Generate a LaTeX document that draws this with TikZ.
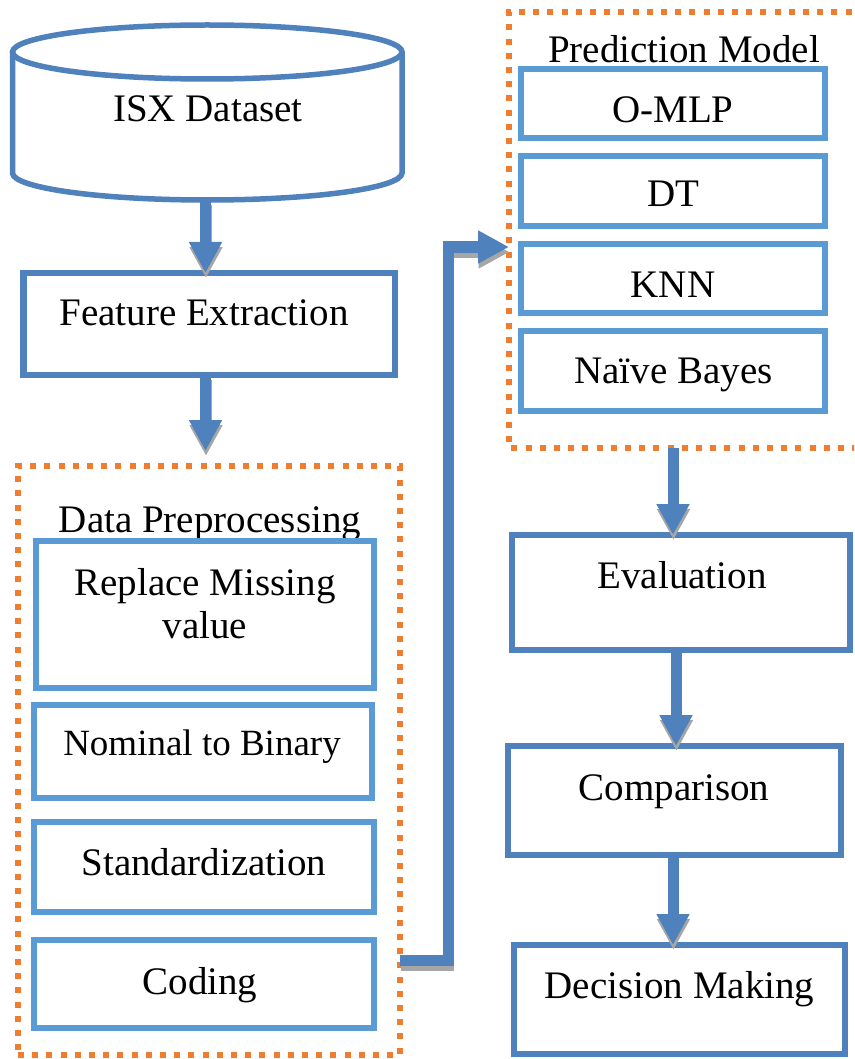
\documentclass[tikz,border=0pt]{standalone}
\usepackage{fontspec}
\setmainfont{Liberation Serif}
\usetikzlibrary{arrows.meta,fit}
\definecolor{boxblue}{HTML}{4F81BD}
\definecolor{itemblue}{HTML}{5B9BD5}
\definecolor{grouporange}{HTML}{ED7D31}
\definecolor{shadowgray}{HTML}{A6A6A6}
\tikzset{
  outerbox/.style={draw=boxblue, line width=6.5pt, inner sep=0pt, outer sep=0pt},
  itembox/.style={draw=itemblue, line width=6.5pt, inner sep=0pt, outer sep=0pt},
  groupbox/.style={draw=grouporange, line width=6pt, dash pattern=on 6pt off 8.2pt, inner sep=0pt, outer sep=0pt},
  lbl/.style={anchor=base, inner sep=0pt, font=\fontsize{39}{43}\selectfont},
  smalllbl/.style={lbl, font=\fontsize{37}{41}\selectfont},
  flow/.style={draw=boxblue, line width=11pt, line join=miter,
    -{Triangle[width=31pt,length=31pt]}},
  flowshadow/.style={flow, draw=shadowgray, transform canvas={shift={(0.5pt,-5pt)}}},
}
\newcommand\shadowedflow[1]{\draw[flowshadow] #1; \draw[flow] #1;}
\begin{document}
\begin{tikzpicture}[x=1pt,y=-1pt]
\clip (0,0) rectangle (854,1059);
\fill[white] (0,0) rectangle (854,1059);

% dataset cylinder
\node[fit={(12.5,25) (402,200)}, inner sep=0pt] (db) {};
\draw[boxblue, line width=5.5pt] (207.25,52) ellipse [x radius=194.75, y radius=27];
\draw[boxblue, line width=5.5pt] (12.5,52) -- (12.5,173)
  arc[start angle=180, end angle=0, x radius=194.75, y radius=27] -- (402,52);
\node[lbl] at (208,122) {ISX Dataset};

% left column
\node[outerbox, fit={(23.5,273) (395,375)}] (feat) {};
\node[lbl] at (204,325) {Feature Extraction};

\node[groupbox, fit={(18,466) (400,1055)}] (prep) {};
\node[lbl] at (210,532) {Data Preprocessing};
\node[itembox, fit={(36,541) (374,688)}] (miss) {};
\node[lbl] at (205,595) {Replace Missing};
\node[lbl] at (205,638) {value};
\node[itembox, fit={(34,705) (372,798)}] (nom) {};
\node[smalllbl] at (202,755) {Nominal to Binary};
\node[itembox, fit={(34,822) (374,912)}] (std) {};
\node[lbl] at (204,875) {Standardization};
\node[itembox, fit={(34,940) (374,1028)}] (cod) {};
\node[lbl] at (200,994) {Coding};

% right column
\node[inner sep=0pt, outer sep=0pt, fit={(509,12) (880,448)}] (pred) {};
\draw[groupbox] (880,12) -- (509,12) -- (509,448) -- (880,448);
\node[lbl] at (684,63) {Prediction Model};
\node[itembox, fit={(521,69) (825,138)}] (mlp) {};
\node[lbl] at (673,123) {O-MLP};
\node[itembox, fit={(521,156) (825,226)}] (dt) {};
\node[lbl] at (673,207) {DT};
\node[itembox, fit={(521,244) (825,313)}] (knn) {};
\node[lbl] at (673,297) {KNN};
\node[itembox, fit={(521,331) (825,411)}] (nb) {};
\node[lbl] at (673.5,383) {Naïve Bayes};

\node[outerbox, fit={(512,535) (850,650)}] (eval) {};
\node[lbl] at (682,588) {Evaluation};
\node[outerbox, fit={(508,746) (841,855)}] (comp) {};
\node[lbl] at (674,800) {Comparison};
\node[outerbox, fit={(514,945) (845,1054)}] (dec) {};
\node[lbl] at (679.5,998) {Decision Making};

% connector guides
\coordinate (colL) at (205.5,0);
\coordinate (colR) at (673,0);
\coordinate (colR2) at (676,0);
\coordinate (prepend) at (205.5,451);
\path (prep.east) ++(0,200) coordinate (cstart);
\coordinate (jog) at (448,600);
\coordinate (cin) at (509,247);

% arrows
\shadowedflow{(db.south -| colL) -- (feat.north -| colL)}
\shadowedflow{(feat.south -| colL) -- (prepend)}
\shadowedflow{(cstart) -| (jog) |- (cin)}
\shadowedflow{(pred.south -| colR) -- (eval.north -| colR)}
\shadowedflow{(eval.south -| colR2) -- (comp.north -| colR2)}
\shadowedflow{(comp.south -| colR) -- (dec.north -| colR)}
\end{tikzpicture}
\end{document}
